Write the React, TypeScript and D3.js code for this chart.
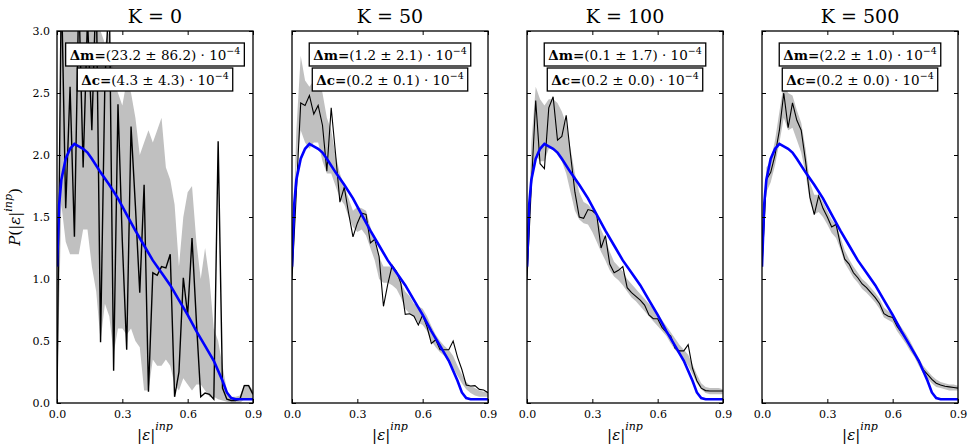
import { useEffect, useRef } from 'react';
import * as d3 from 'd3';

// |eps|^inp grid
const EPS = [0.00, 0.02, 0.04, 0.06, 0.08, 0.10, 0.12, 0.14, 0.16, 0.18,
    0.20, 0.22, 0.24, 0.26, 0.28, 0.30, 0.32, 0.34, 0.36, 0.38,
    0.40, 0.42, 0.44, 0.46, 0.48, 0.50, 0.52, 0.54, 0.56, 0.58,
    0.60, 0.62, 0.64, 0.66, 0.68, 0.70, 0.72, 0.74, 0.76, 0.78,
    0.80, 0.82, 0.84, 0.86, 0.88, 0.90];

// blue reference distribution (same in all panels)
const MODEL_X = [0, 0.01, 0.02, 0.04, 0.06, 0.08, 0.10, 0.12, 0.14, 0.16, 0.20, 0.24, 0.28, 0.32, 0.36,
    0.40, 0.44, 0.48, 0.52, 0.56, 0.60, 0.64, 0.68, 0.72, 0.76, 0.78, 0.80, 0.82, 0.86, 0.90];
const MODEL_Y = [1.1, 1.6, 1.8, 1.97, 2.05, 2.09, 2.07, 2.05, 2.02, 1.97, 1.86, 1.76, 1.65, 1.52, 1.39,
    1.27, 1.15, 1.05, 0.95, 0.83, 0.71, 0.58, 0.46, 0.34, 0.18, 0.085, 0.04, 0.03, 0.03, 0.03];

// K = 0
const K0_LINE = [0.02, 3.4, 1.57, 2.55, 1.34, 3.3, 1.9, 3.1, 2.2, 3.4,
    0.49, 2.6, 3.3, 0.26, 2.41, 1.3, 0.43, 2.23, 1.59, 0.89,
    1.76, 0.09, 1.05, 1.03, 1.10, 1.09, 1.20, 0.05, 0.25, 1.01,
    0.71, 1.33, 0.66, 0.05, 0.08, 0.07, 0.03, 2.11, 0.12, 0.03,
    0.02, 0.02, 0.03, 0.14, 0.14, 0.07];
const K0_LO = [0.0, 1.6, 1.3, 1.2, 1.2, 1.2, 1.4, 1.4, 1.1, 0.9,
    0.5, 0.8, 0.7, 0.4, 0.6, 0.6, 0.55, 0.6, 0.5, 0.45,
    0.1, 0.1, 0.35, 0.3, 0.3, 0.35, 0.3, 0.15, 0.1, 0.2,
    0.15, 0.1, 0.15, 0.15, 0.1, 0.05, 0.05, 0.03, 0.02, 0.01,
    0.0, 0.0, 0.0, 0.03, 0.04, 0.02];
const K0_HI = [0.3, 3.5, 3.5, 3.5, 3.5, 3.5, 3.5, 3.5, 3.5, 3.2,
    3.0, 2.9, 3.0, 2.6, 2.5, 2.4, 2.6, 2.5, 2.3, 2.0,
    2.1, 2.2, 2.1, 2.2, 2.3, 1.9, 1.8, 1.6, 1.1, 1.5,
    1.7, 1.75, 1.3, 1.0, 1.25, 1.0, 0.6, 0.5, 0.3, 0.1,
    0.05, 0.05, 0.06, 0.15, 0.15, 0.1];

// K = 50
const K50_LINE = [1.0, 1.7, 2.42, 2.40, 2.48, 2.33, 2.40, 2.24, 1.87, 2.38,
    2.01, 1.62, 1.74, 1.53, 1.34, 1.45, 1.53, 1.52, 1.29, 1.32,
    1.18, 0.78, 0.96, 1.11, 1.06, 0.965, 0.715, 0.72, 0.70, 0.63,
    0.71, 0.615, 0.48, 0.51, 0.43, 0.43, 0.43, 0.50, 0.37, 0.27,
    0.145, 0.137, 0.14, 0.11, 0.105, 0.083];
const K50_LO = [1.0, 1.9, 2.2, 2.1, 2.05, 2.1, 2.1, 1.95, 1.85, 1.85,
    1.75, 1.65, 1.6, 1.5, 1.42, 1.38, 1.4, 1.35, 1.25, 1.15,
    1.0, 0.97, 0.97, 0.95, 0.92, 0.85, 0.76, 0.72, 0.7, 0.65,
    0.63, 0.58, 0.5, 0.45, 0.41, 0.38, 0.33, 0.28, 0.22, 0.16,
    0.11, 0.08, 0.06, 0.05, 0.05, 0.05];
const K50_HI = [1.1, 2.2, 2.8, 2.6, 2.55, 2.6, 2.65, 2.5, 2.3, 2.2,
    2.0, 1.85, 1.75, 1.65, 1.55, 1.58, 1.57, 1.55, 1.42, 1.3,
    1.18, 1.1, 1.1, 1.1, 1.05, 0.97, 0.9, 0.86, 0.8, 0.78,
    0.76, 0.7, 0.62, 0.55, 0.5, 0.46, 0.43, 0.38, 0.3, 0.23,
    0.17, 0.14, 0.12, 0.1, 0.09, 0.09];

// K = 100
const K100_LINE = [1.0, 1.75, 2.44, 1.93, 1.89, 2.38, 2.47, 2.12, 2.15, 2.32,
    2.0, 1.70, 1.50, 1.49, 1.56, 1.55, 1.52, 1.25, 1.35, 1.12,
    1.05, 1.07, 1.10, 0.93, 0.89, 0.86, 0.83, 0.79, 0.71, 0.68,
    0.68, 0.61, 0.57, 0.54, 0.44, 0.42, 0.42, 0.47, 0.28, 0.18,
    0.12, 0.10, 0.097, 0.097, 0.097, 0.097];
const K100_LO = [0.9, 1.75, 2.0, 1.95, 1.95, 2.05, 2.05, 2.0, 1.95, 1.85,
    1.7, 1.55, 1.48, 1.45, 1.44, 1.38, 1.3, 1.22, 1.15, 1.07,
    1.02, 0.99, 0.95, 0.9, 0.85, 0.82, 0.78, 0.74, 0.7, 0.66,
    0.62, 0.58, 0.54, 0.48, 0.43, 0.39, 0.35, 0.3, 0.23, 0.16,
    0.11, 0.08, 0.07, 0.07, 0.07, 0.07];
const K100_HI = [1.1, 2.1, 2.55, 2.45, 2.4, 2.45, 2.45, 2.42, 2.35, 2.25,
    2.05, 1.85, 1.7, 1.62, 1.6, 1.56, 1.5, 1.4, 1.32, 1.22,
    1.14, 1.1, 1.06, 1.0, 0.96, 0.92, 0.88, 0.84, 0.8, 0.76,
    0.72, 0.67, 0.62, 0.57, 0.52, 0.47, 0.43, 0.39, 0.31, 0.23,
    0.16, 0.13, 0.12, 0.12, 0.12, 0.11];

// K = 500
const K500_LINE = [1.1, 1.80, 1.86, 2.0, 2.20, 2.50, 2.22, 2.42, 2.28, 2.2,
    1.95, 1.66, 1.52, 1.67, 1.57, 1.5, 1.42, 1.44, 1.28, 1.16,
    1.12, 1.05, 1.01, 0.96, 0.93, 0.89, 0.85, 0.8, 0.72, 0.70,
    0.69, 0.62, 0.57, 0.52, 0.46, 0.40, 0.33, 0.27, 0.23, 0.19,
    0.16, 0.145, 0.135, 0.13, 0.125, 0.12];
const K500_LO = [1.05, 1.7, 1.78, 1.92, 2.1, 2.3, 2.2, 2.22, 2.12, 2.02,
    1.85, 1.62, 1.52, 1.54, 1.5, 1.44, 1.37, 1.33, 1.24, 1.13,
    1.07, 1.01, 0.97, 0.92, 0.89, 0.85, 0.81, 0.76, 0.69, 0.67,
    0.65, 0.58, 0.53, 0.48, 0.42, 0.37, 0.3, 0.24, 0.2, 0.16,
    0.13, 0.12, 0.11, 0.1, 0.1, 0.1];
const K500_HI = [1.15, 1.9, 1.95, 2.12, 2.35, 2.58, 2.5, 2.48, 2.36, 2.26,
    2.05, 1.78, 1.68, 1.68, 1.62, 1.55, 1.48, 1.44, 1.34, 1.23,
    1.16, 1.1, 1.05, 1.0, 0.97, 0.93, 0.89, 0.84, 0.77, 0.74,
    0.72, 0.66, 0.61, 0.56, 0.5, 0.43, 0.36, 0.3, 0.26, 0.22,
    0.19, 0.17, 0.16, 0.15, 0.15, 0.14];

const TITLES = ['K = 0', 'K = 50', 'K = 100', 'K = 500'];
const DM_MEAN = [23.2, 1.2, 0.1, 2.2];
const DM_ERR = [86.2, 2.1, 1.7, 1.0];
const DC_MEAN = [4.3, 0.2, 0.2, 0.2];
const DC_ERR = [4.3, 0.1, 0.0, 0.0];

const X_TICKS = [0, 0.3, 0.6, 0.9];
const Y_TICKS = [0, 0.5, 1.0, 1.5, 2.0, 2.5, 3.0];

const SERIF = '"DejaVu Serif", serif';

export default function App() {
    const svgRef = useRef<SVGSVGElement>(null);

    useEffect(() => {
        const svg = d3.select(svgRef.current);
        svg.selectAll('*').remove();

        const panels = [
            { line: K0_LINE, lo: K0_LO, hi: K0_HI },
            { line: K50_LINE, lo: K50_LO, hi: K50_HI },
            { line: K100_LINE, lo: K100_LO, hi: K100_HI },
            { line: K500_LINE, lo: K500_LO, hi: K500_HI },
        ];

        const lefts = [57, 292, 527, 762];
        const pw = 196;
        const top = 31;
        const bottom = 403;

        const y = d3.scaleLinear().domain([0, 3]).range([bottom, top]);
        const defs = svg.append('defs');

        panels.forEach((p, i) => {
            const x = d3.scaleLinear().domain([0, 0.9]).range([lefts[i], lefts[i] + pw]);
            const cx = lefts[i] + pw / 2;

            defs.append('clipPath').attr('id', `clip-${i}`)
                .append('rect')
                .attr('x', lefts[i]).attr('y', top)
                .attr('width', pw).attr('height', bottom - top);

            const g = svg.append('g');
            const plot = g.append('g').attr('clip-path', `url(#clip-${i})`);

            // spread band
            const area = d3.area<number>()
                .x((_, j) => x(EPS[j]))
                .y0((_, j) => y(p.lo[j]))
                .y1((_, j) => y(p.hi[j]));
            plot.append('path').datum(p.line).attr('d', area).attr('fill', '#c0c0c0');

            // single realisation
            const line = d3.line<number>()
                .x((_, j) => x(EPS[j]))
                .y(d => y(d));
            plot.append('path').datum(p.line).attr('d', line)
                .attr('fill', 'none').attr('stroke', '#000')
                .attr('stroke-width', i === 0 ? 1.4 : 1.1)
                .attr('stroke-linejoin', 'miter');

            // reference curve
            const model = d3.line<number>()
                .x((_, j) => x(MODEL_X[j]))
                .y(d => y(d));
            plot.append('path').datum(MODEL_Y).attr('d', model)
                .attr('fill', 'none').attr('stroke', '#0000ff')
                .attr('stroke-width', 2.6);

            // axes with inward ticks
            const styleAxis = (a: d3.Selection<SVGGElement, unknown, null, undefined>) => {
                a.select('.domain').remove();
                a.selectAll('line').attr('stroke', '#000').attr('stroke-width', 1);
                a.attr('font-family', SERIF).attr('font-size', 11);
                a.selectAll('text').attr('fill', '#000');
            };

            g.append('g').attr('transform', `translate(0,${bottom})`)
                .call(d3.axisBottom(x).tickValues(X_TICKS).tickSize(-4).tickPadding(7).tickFormat(d3.format('.1f')))
                .call(styleAxis);
            g.append('g').attr('transform', `translate(0,${top})`)
                .call(d3.axisTop(x).tickValues(X_TICKS).tickSize(-4).tickFormat(() => ''))
                .call(styleAxis);
            g.append('g').attr('transform', `translate(${lefts[i]},0)`)
                .call(d3.axisLeft(y).tickValues(Y_TICKS).tickSize(-4).tickPadding(7)
                    .tickFormat(i === 0 ? d3.format('.1f') : () => ''))
                .call(styleAxis);
            g.append('g').attr('transform', `translate(${lefts[i] + pw},0)`)
                .call(d3.axisRight(y).tickValues(Y_TICKS).tickSize(-4).tickFormat(() => ''))
                .call(styleAxis);

            g.append('rect')
                .attr('x', lefts[i]).attr('y', top)
                .attr('width', pw).attr('height', bottom - top)
                .attr('fill', 'none').attr('stroke', '#000').attr('stroke-width', 1.3);

            // title
            g.append('text')
                .attr('x', cx).attr('y', 23)
                .attr('text-anchor', 'middle')
                .style('font-family', SERIF).style('font-size', '19px')
                .text(TITLES[i]);

            // x label
            const xl = g.append('text')
                .attr('x', cx).attr('y', 440)
                .attr('text-anchor', 'middle')
                .style('font-family', SERIF).style('font-size', '15px');
            xl.append('tspan').text('|');
            xl.append('tspan').attr('font-style', 'italic').text('ε');
            xl.append('tspan').text('|');
            xl.append('tspan').attr('font-style', 'italic').attr('font-size', '11px').attr('dy', -10).text('inp');

            // legend boxes
            const box = (boxTop: number, label: string, mean: number, err: number) => {
                const t = g.append('text')
                    .attr('x', cx).attr('y', boxTop + 17)
                    .attr('text-anchor', 'middle')
                    .style('font-family', SERIF).style('font-size', '13.5px');
                t.append('tspan').attr('font-weight', 'bold').text(label + '=');
                t.append('tspan').text(`(${mean.toFixed(1)} ± ${err.toFixed(1)}) · 10`);
                t.append('tspan').attr('font-size', '9.5px').attr('dy', -6).text('−4');
                const bb = (t.node() as SVGTextElement).getBBox();
                g.insert('rect', () => t.node())
                    .attr('x', bb.x - 4).attr('y', boxTop)
                    .attr('width', bb.width + 8).attr('height', 23)
                    .attr('fill', '#fff').attr('stroke', '#000').attr('stroke-width', 1.3);
            };
            box(43, 'Δm', DM_MEAN[i], DM_ERR[i]);
            box(68, 'Δc', DC_MEAN[i], DC_ERR[i]);
        });

        // y label
        const yl = svg.append('text')
            .attr('transform', 'translate(20,217) rotate(-90)')
            .attr('text-anchor', 'middle')
            .style('font-family', SERIF).style('font-size', '15px');
        yl.append('tspan').attr('font-style', 'italic').text('P');
        yl.append('tspan').text('(|');
        yl.append('tspan').attr('font-style', 'italic').text('ε');
        yl.append('tspan').text('|');
        yl.append('tspan').attr('font-style', 'italic').attr('font-size', '11px').attr('dy', -8).text('inp');
        yl.append('tspan').attr('dy', 8).text(')');
    }, []);

    return (
        <svg
            ref={svgRef}
            width={975}
            height={447}
            style={{ position: 'absolute', left: 0, top: 0, background: '#fff' }}
        />
    );
}
